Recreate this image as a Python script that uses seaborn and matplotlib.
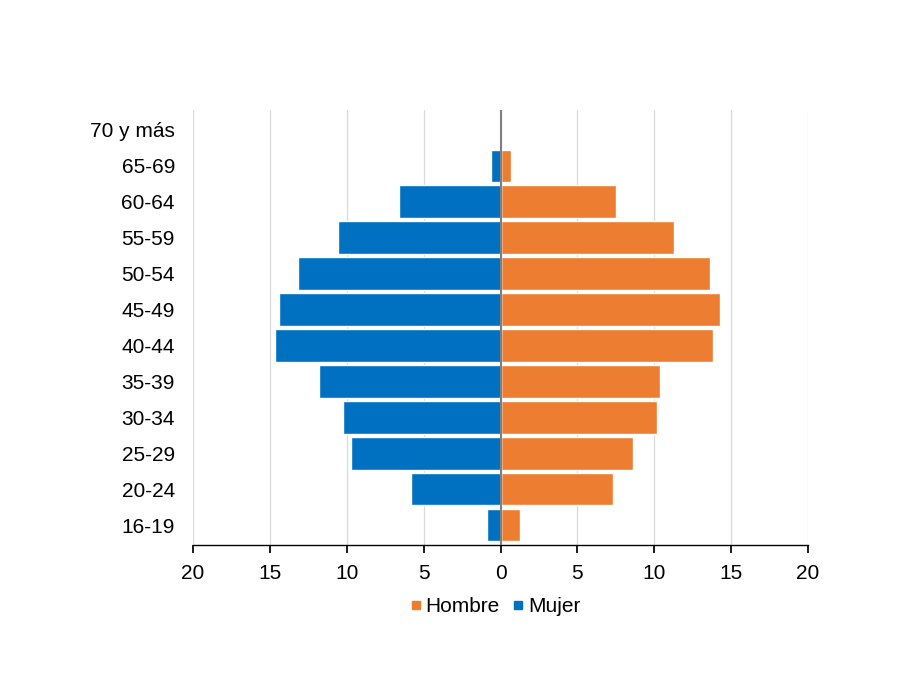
import matplotlib
matplotlib.use("Agg")
import matplotlib.pyplot as plt
import seaborn as sns
import pandas as pd
from matplotlib.ticker import FuncFormatter
from matplotlib.lines import Line2D

grupos = ["70 y más", "65-69", "60-64", "55-59", "50-54", "45-49",
          "40-44", "35-39", "30-34", "25-29", "20-24", "16-19"]
hombre = [0.0, 0.7, 7.5, 11.3, 13.65, 14.3, 13.8, 10.4, 10.15, 8.6, 7.3, 1.3]
mujer = [0.0, 0.65, 6.6, 10.6, 13.2, 14.4, 14.65, 11.8, 10.25, 9.7, 5.8, 0.85]
ticks = [-20, -15, -10, -5, 0, 5, 10, 15, 20]

col_h = "#ED7D31"
col_m = "#0070C0"

sns.set_theme(style="white")
plt.rcParams["font.family"] = ["Liberation Sans", "DejaVu Sans"]
plt.rcParams["text.color"] = "black"
plt.rcParams["xtick.color"] = "black"
plt.rcParams["ytick.color"] = "black"

df = pd.DataFrame({
    "grupo": grupos * 2,
    "valor": hombre + [-v for v in mujer],
    "sexo": ["Hombre"] * len(grupos) + ["Mujer"] * len(grupos),
})

fig = plt.figure(figsize=(9.01, 6.84), dpi=100)
ax = fig.add_axes([193/901, 1-545/684, 615/901, 435/684])

sns.barplot(data=df, y="grupo", x="valor", hue="sexo", order=grupos,
            hue_order=["Hombre", "Mujer"], palette=[col_h, col_m],
            dodge=False, orient="h", width=0.9, ax=ax, legend=False,
            saturation=1, edgecolor="white", linewidth=1.0)

ax.set_xlim(-20, 20)
ax.set_ylim(len(grupos) - 0.45, -0.55)
ax.set_xticks(ticks)
ax.xaxis.set_major_formatter(FuncFormatter(lambda v, p: f"{abs(int(v))}"))
ax.grid(axis="x", color="#d9d9d9", linewidth=0.9)
ax.set_axisbelow(True)
ax.axvline(0, color="#7f7f7f", linewidth=1.5, zorder=5)
for s in ["top", "right", "left"]:
    ax.spines[s].set_visible(False)
ax.spines["bottom"].set_color("black")
ax.spines["bottom"].set_linewidth(1.0)
ax.tick_params(axis="x", bottom=True, length=6, color="black", labelsize=15, pad=8,
               labelcolor="black")
ax.tick_params(axis="y", left=False, length=0, labelsize=15, pad=13, labelcolor="black")
ax.set_xlabel("")
ax.set_ylabel("")

handles = [Line2D([], [], marker="s", linestyle="none", color=col_h, markersize=6),
           Line2D([], [], marker="s", linestyle="none", color=col_m, markersize=6)]
fig.legend(handles, ["Hombre", "Mujer"], loc="center", bbox_to_anchor=(494/901, 1-607/684),
           ncol=2, frameon=False, fontsize=15, handletextpad=0.05, columnspacing=0.5,
           handlelength=0.8, labelcolor="black")

fig.savefig("out.png", dpi=100, facecolor="white")
